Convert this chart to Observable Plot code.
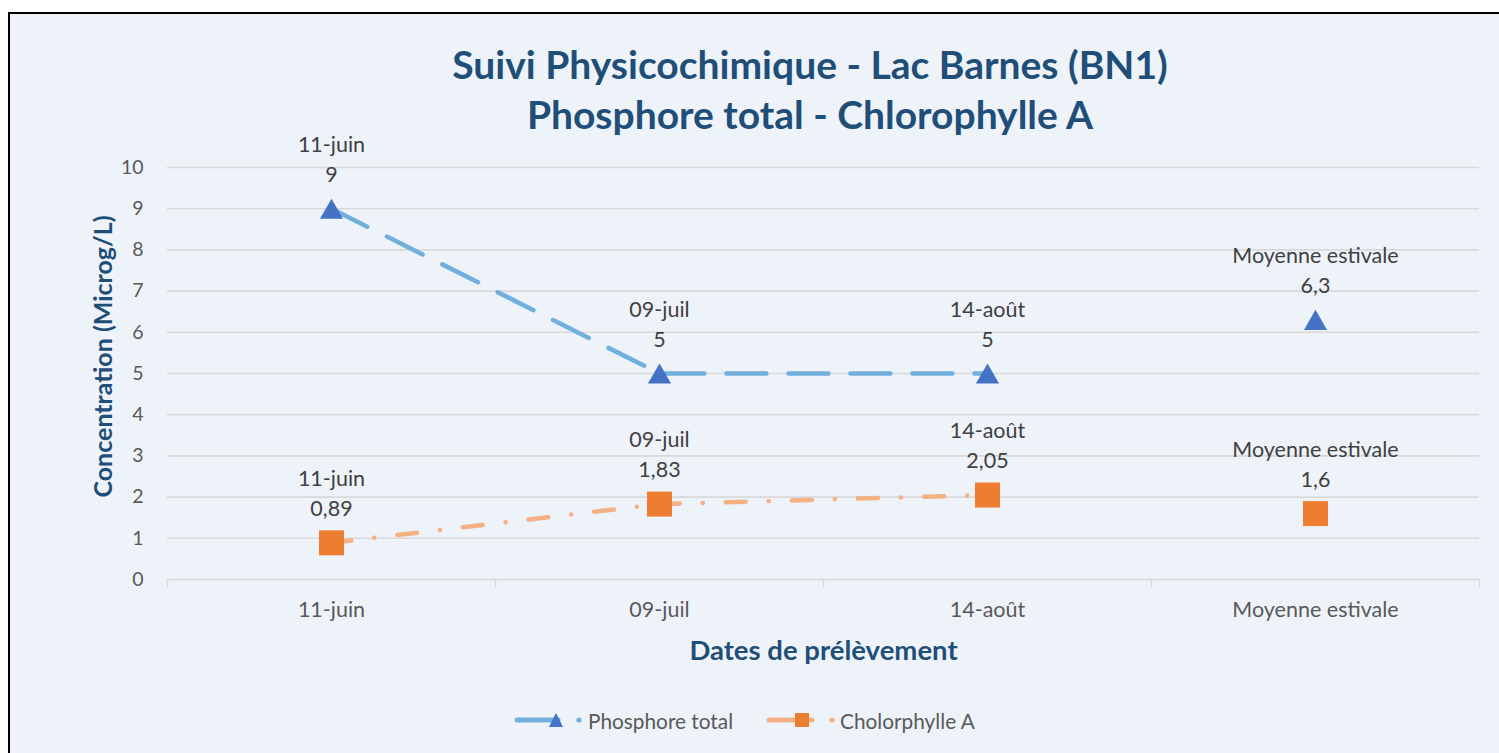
<!DOCTYPE html>
<html>
<head>
<meta charset="utf-8">
<script src="https://cdn.jsdelivr.net/npm/d3@7"></script>
<script src="https://cdn.jsdelivr.net/npm/@observablehq/plot@0.6"></script>
<style>
  html, body { margin: 0; padding: 0; background: #ffffff; }
  #page { position: relative; width: 1499px; height: 753px; overflow: hidden; font-family: Lato, "Open Sans", sans-serif; }
  #frame { position: absolute; left: 8px; top: 12px; width: 1500px; height: 760px; border: 2px solid #000; background: #EEF3FA; box-sizing: border-box; }
  #title { position: absolute; left: 0; width: 1620px; top: 39px; text-align: center; color: #1F4E79; font-weight: bold; font-size: 39px; line-height: 50px; }
  #chart { position: absolute; left: 0; top: 0; }
  #legend { position: absolute; left: 513px; top: 706px; display: flex; align-items: center; color: #595959; font-size: 20.8px; }
  #legend .item { display: flex; align-items: center; }
  #legend svg { display: block; }
</style>
</head>
<body>
<div id="page">
  <div id="frame"></div>
  <div id="title">Suivi Physicochimique - Lac Barnes (BN1)<br>Phosphore total - Chlorophylle A</div>
  <div id="chart"></div>
  <div id="legend">
    <div class="item">
      <svg width="75" height="28">
        <line x1="4" y1="14" x2="45" y2="14" stroke="#72AFDD" stroke-width="5" stroke-linecap="round"/>
        <path d="M36,21 L43,7 L50,21 Z" fill="#4472C4"/>
        <circle cx="66" cy="14" r="2.6" fill="#72AFDD"/>
      </svg>
      <span>Phosphore total</span>
    </div>
    <div class="item" style="margin-left:32px">
      <svg width="75" height="28">
        <line x1="4" y1="14" x2="47" y2="14" stroke="#F4B183" stroke-width="5" stroke-linecap="round"/>
        <rect x="30" y="7" width="14" height="14" fill="#ED7D31"/>
        <circle cx="67" cy="14" r="2.6" fill="#F4B183"/>
      </svg>
      <span>Cholorphylle A</span>
    </div>
  </div>
</div>
<script>
// ---- data ----
const categories = ["11-juin", "09-juil", "14-août", "Moyenne estivale"];
const phosphore = [9, 5, 5, 6.3];
const chlorophylle = [0.89, 1.83, 2.05, 1.6];
const yTicks = [0, 1, 2, 3, 4, 5, 6, 7, 8, 9, 10];
const lineCount = 3; // the average point is not joined by the line

const fmt = v => String(v).replace(".", ",");
const rows = (vals, series) => vals.map((v, i) => ({ i, pos: i + 0.5, cat: categories[i], v, series, label: `${categories[i]}\n${fmt(v)}` }));
const pData = rows(phosphore, "Phosphore total");
const cData = rows(chlorophylle, "Chlorophylle A");

const font = "Lato, 'Open Sans', sans-serif";

const chart = Plot.plot({
  width: 1499,
  height: 680,
  marginLeft: 167,
  marginRight: 20,
  marginTop: 167,
  marginBottom: 101,
  style: { fontFamily: font, background: "transparent", overflow: "visible" },
  x: { domain: [0, categories.length], axis: null },
  y: { domain: [0, 10], axis: null },
  marks: [
    Plot.gridY(yTicks, { stroke: "#D9D9D9", strokeOpacity: 1, strokeWidth: 1.6 }),
    Plot.axisX(d3.range(categories.length + 1), { tickSize: 8, tickFormat: () => "", stroke: "#D9D9D9", strokeWidth: 1.6, label: null }),
    Plot.axisX(d3.range(categories.length).map(i => i + 0.5), {
      tickSize: 0, tickPadding: 22, tickFormat: d => categories[Math.floor(d)],
      fontSize: 21.5, fill: "#595959", label: null
    }),
    Plot.axisY(yTicks, { tickSize: 0, tickPadding: 24, fontSize: 19.5, fill: "#595959", label: null }),
    // lines
    Plot.line(pData.slice(0, lineCount), {
      x: "pos", y: "v", stroke: "#72AFDD", strokeWidth: 4.5, strokeLinecap: "round",
      strokeDasharray: "40,22"
    }),
    Plot.line(cData.slice(0, lineCount), {
      x: "pos", y: "v", stroke: "#F4B183", strokeWidth: 4.5, strokeLinecap: "round",
      strokeDasharray: "20,23,0.1,23"
    }),
    // markers
    Plot.dot(pData, { x: "pos", y: "v", symbol: "triangle", r: 8.6, fill: "#4472C4", stroke: null, dy: 3.3 }),
    Plot.dot(cData, { x: "pos", y: "v", symbol: "square", r: 14.1, fill: "#ED7D31", stroke: null }),
    // data labels
    Plot.text(pData, { x: "pos", y: "v", text: "label", lineAnchor: "middle", lineHeight: 1.4, dy: -51.5, fontSize: 21.5, fill: "#404040" }),
    Plot.text(cData, { x: "pos", y: "v", text: "label", lineAnchor: "middle", lineHeight: 1.4, dy: -51.5, fontSize: 21.5, fill: "#404040" }),
    // axis titles
    Plot.text(["Concentration (Microg/L)"], { frameAnchor: "left", dx: -64, dy: -17, rotate: -90, fontSize: 25, fontWeight: "bold", fill: "#1F4E79", textAnchor: "middle", lineAnchor: "middle" }),
    Plot.text(["Dates de prélèvement"], { frameAnchor: "bottom", dy: 72, fontSize: 27.5, fontWeight: "bold", fill: "#1F4E79", textAnchor: "middle", lineAnchor: "middle" })
  ]
});
document.getElementById("chart").appendChild(chart);
</script>
</body>
</html>
